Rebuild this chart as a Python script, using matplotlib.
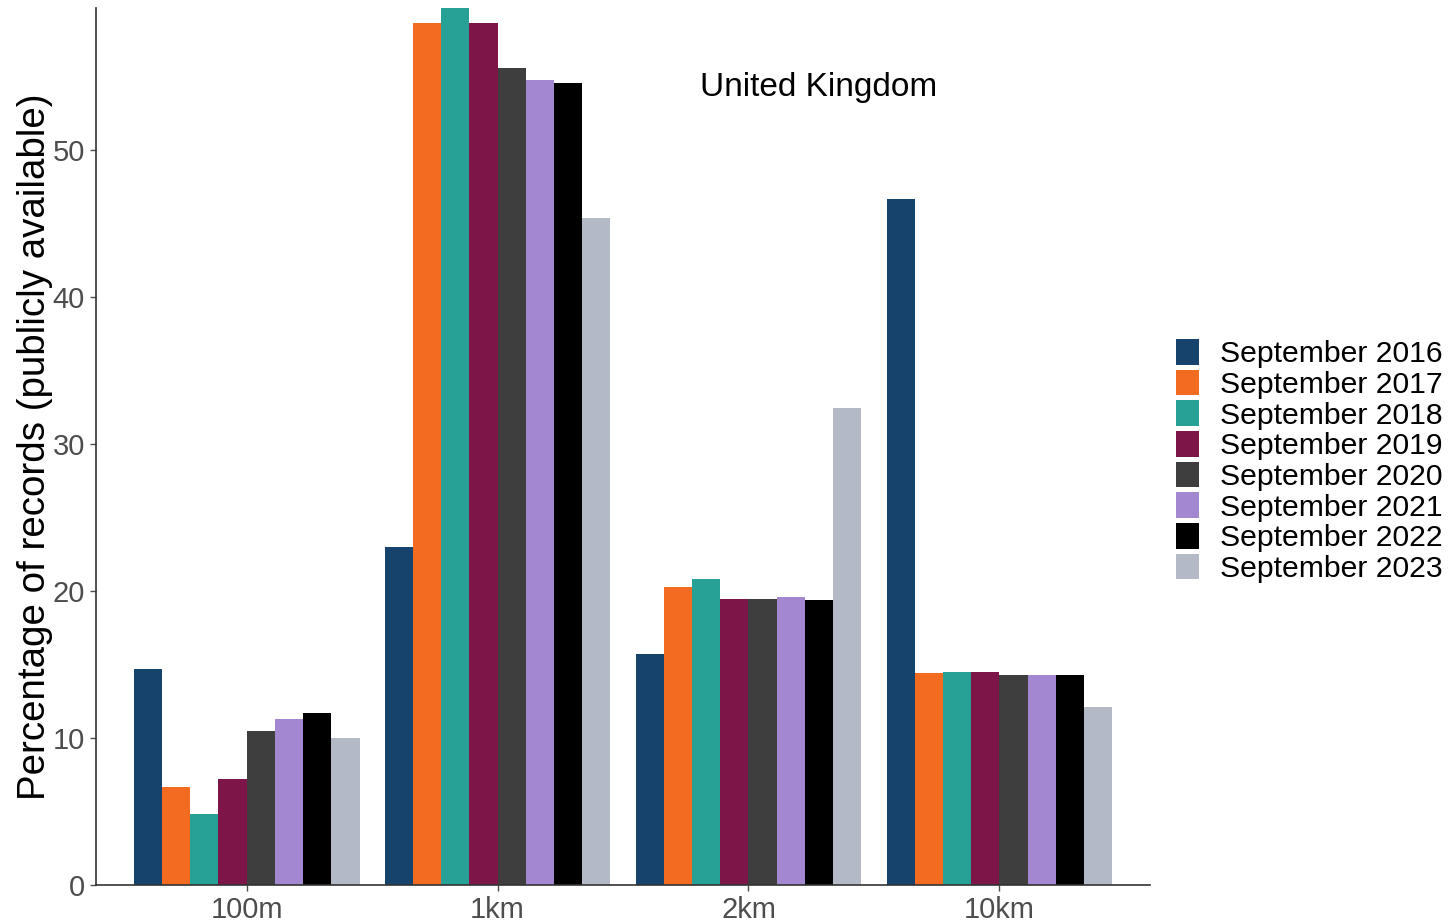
import matplotlib.pyplot as plt
import numpy as np

plt.rcParams['font.family'] = ['Liberation Sans', 'DejaVu Sans']

resolutions = ['100m', '1km', '2km', '10km']
years = ['September 2016', 'September 2017', 'September 2018', 'September 2019',
         'September 2020', 'September 2021', 'September 2022', 'September 2023']
colours = ['#15436B', '#F26B21', '#27A195', '#7D1548',
           '#3E3E3E', '#A387D1', '#000000', '#B4B9C7']

# percentage of records per year, one value per resolution
pct_2016 = [14.7, 23.0, 15.7, 46.7]
pct_2017 = [6.7, 58.7, 20.3, 14.4]
pct_2018 = [4.8, 59.7, 20.8, 14.5]
pct_2019 = [7.2, 58.7, 19.5, 14.5]
pct_2020 = [10.5, 55.6, 19.5, 14.3]
pct_2021 = [11.3, 54.8, 19.6, 14.3]
pct_2022 = [11.7, 54.6, 19.4, 14.3]
pct_2023 = [10.0, 45.4, 32.5, 12.1]
values = [pct_2016, pct_2017, pct_2018, pct_2019, pct_2020, pct_2021, pct_2022, pct_2023]

fig = plt.figure(figsize=(14.53, 9.23), dpi=100)
ax = fig.add_axes([96 / 1453, 38 / 923, 1054 / 1453, 877 / 923])

x = np.arange(1, len(resolutions) + 1)
n = len(years)
w = 0.9 / n
for i, (lab, vals, col) in enumerate(zip(years, values, colours)):
    ax.bar(x - 0.45 + w * (i + 0.5), vals, width=w, color=col, label=lab)

ax.set_xlim(0.4, 4.6)
ax.set_ylim(0, 59.7)
ax.set_xticks(x)
ax.set_xticklabels(resolutions)
ax.set_yticks([0, 10, 20, 30, 40, 50])
ax.tick_params(axis='both', labelsize=21, colors='#4D4D4D', length=4, width=1)
ax.tick_params(axis='x', pad=4)
ax.tick_params(axis='y', pad=4)
for s in ['top', 'right']:
    ax.spines[s].set_visible(False)
for s in ['left', 'bottom']:
    ax.spines[s].set_color('#333333')
    ax.spines[s].set_linewidth(1.2)

ax.set_ylabel('Percentage of records (publicly available)', fontsize=27.7, labelpad=0)
ax.text(3.28, 54.3, 'United Kingdom', fontsize=24, ha='center', va='center')

ax.legend(loc='center left', bbox_to_anchor=(1176 / 1453, 462 / 923),
          bbox_transform=fig.transFigure, frameon=False, fontsize=21.7,
          handlelength=0.77, handleheight=0.93, labelspacing=0.05,
          handletextpad=0.7, borderaxespad=0, borderpad=0)

fig.savefig('out.png', dpi=100)
